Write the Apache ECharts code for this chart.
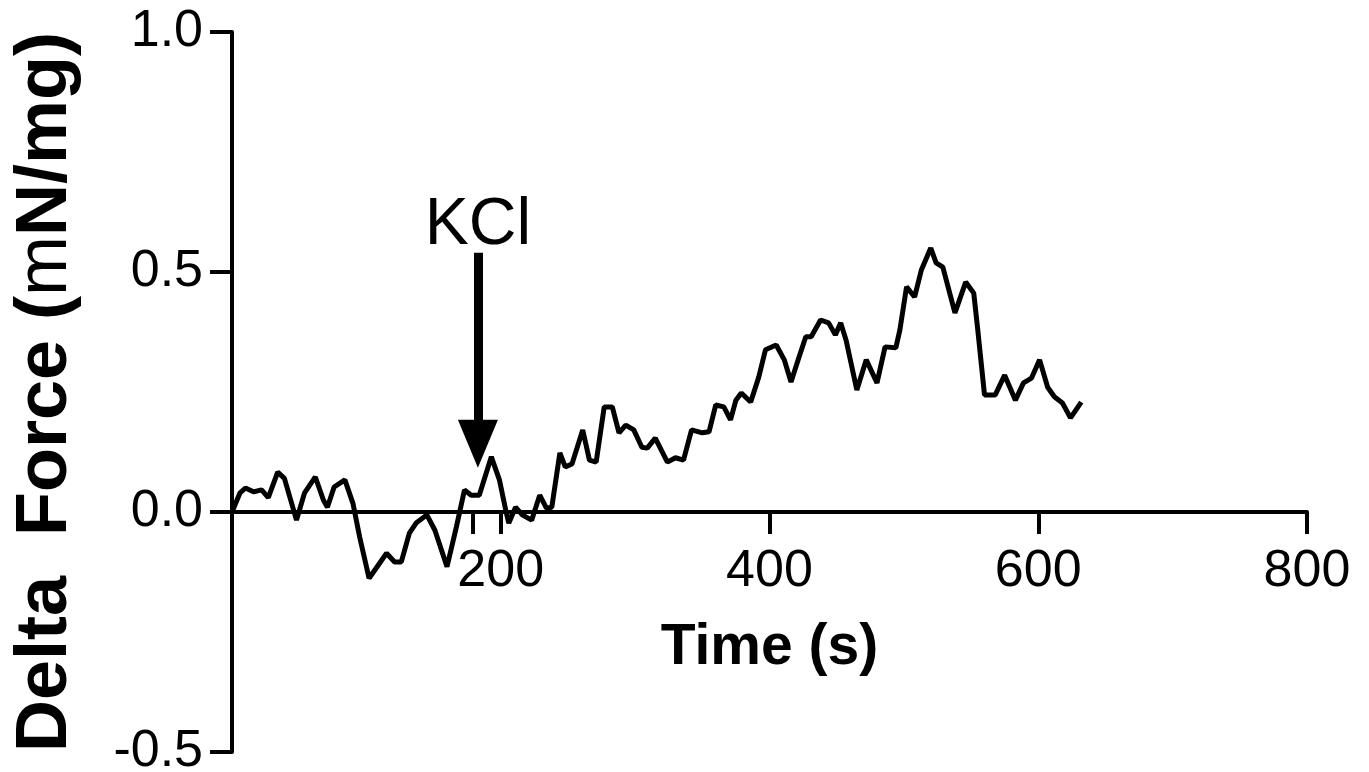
<!DOCTYPE html>
<html>
<head>
<meta charset="utf-8">
<script src="https://cdn.jsdelivr.net/npm/echarts@6/dist/echarts.min.js"></script>
<style>
html,body{margin:0;padding:0;background:#fff;}
#c{width:1369px;height:772px;}
</style>
</head>
<body>
<div id="c"></div>
<script>
const timeS = [0,6,10,16,22,27,34,39,48,54,62,68,71,76,84,90,95,102,108,115,121,126,132,137,145,151,160,167,173,178,184,193,199,204,206,211,216,223,229,234,238,244,248,253,261,266,271,277,283,288,293,299,305,309,315,324,330,336,342,350,355,360,366,371,375,379,386,392,397,405,411,416,422,427,431,438,444,449,453,457,465,472,480,486,494,497,502,508,513,520,524,529,538,546,552,555,560,568,575,583,589,595,601,607,612,618,624,632];
const deltaForce = [0,.04,.05,.042,.046,.03,.083,.07,-.017,.04,.073,.025,.01,.052,.067,.018,-.052,-.138,-.114,-.086,-.104,-.104,-.044,-.023,-.006,-.038,-.114,-.031,.046,.035,.035,.115,.067,0,-.023,.01,-.006,-.017,.035,.008,.01,.123,.094,.10,.171,.108,.104,.219,.219,.165,.181,.171,.135,.133,.154,.104,.113,.108,.171,.165,.167,.223,.219,.192,.233,.248,.229,.281,.338,.348,.317,.271,.323,.365,.365,.40,.394,.369,.394,.358,.254,.317,.269,.344,.342,.379,.469,.448,.504,.55,.519,.51,.415,.479,.456,.379,.244,.244,.285,.233,.269,.279,.317,.26,.24,.227,.196,.229];
const xTicks = [179,200,400,600,800];
const xLabels = [200,400,600,800];
const yLabels = [-0.5,0,0.5,1.0];
const kclTime = 183;
const kclArrowFrom = 0.54;
const kclArrowTo = 0.142;

const FONT = "'Liberation Sans', Arial, Helvetica, sans-serif";
const chart = echarts.init(document.getElementById('c'), null, {renderer:'canvas'});
const series = timeS.map((t,i)=>[t, deltaForce[i]]);
const GRID_TOP = 32, GRID_BOTTOM = 20, H = 772;
const yMin = -0.5, yMax = 1.0;
const plotH = H - GRID_TOP - GRID_BOTTOM;
// x axis drawn along y = 0: shift it up from the grid bottom
const xOffset = -plotH * (0 - yMin) / (yMax - yMin);
// tick length of 22px expressed in y units
const tickLen = 22 * (yMax - yMin) / plotH;

const arrowItem = [
  {coord:[kclTime,kclArrowFrom], symbol:'none',
   lineStyle:{color:'#000', width:9, type:'solid'},
   label:{show:true, position:'start', formatter:'KCl', color:'#000', fontSize:66, fontFamily:FONT, distance:-6}},
  {coord:[kclTime,kclArrowTo], symbol:'triangle', symbolSize:[40,48]}
];
const tickItems = xTicks.map(v=>[
  {coord:[v,0], symbol:'none', lineStyle:{color:'#000', width:4, type:'solid'}, label:{show:false}},
  {coord:[v,-tickLen], symbol:'none'}
]);

chart.setOption({
  backgroundColor:'#fff',
  animation:false,
  grid:{left:232, right:62, top:GRID_TOP, bottom:GRID_BOTTOM, containLabel:false, outerBoundsMode:'none'},
  xAxis:{
    type:'value', min:0, max:800, interval:200, position:'bottom', offset:xOffset,
    axisLine:{show:true, onZero:false, lineStyle:{color:'#000', width:4}},
    axisTick:{show:false},
    axisLabel:{color:'#000', fontSize:52, fontFamily:FONT, margin:34, customValues:xLabels},
    splitLine:{show:false},
    name:'Time (s)', nameLocation:'middle', nameGap:108,
    nameTextStyle:{color:'#000', fontSize:57, fontWeight:'bold', fontFamily:FONT}
  },
  yAxis:{
    type:'value', min:yMin, max:yMax, interval:0.5,
    axisLine:{show:true, lineStyle:{color:'#000', width:4}},
    axisTick:{show:true, inside:false, length:22, lineStyle:{color:'#000', width:4}, customValues:yLabels},
    axisLabel:{color:'#000', fontSize:52, fontFamily:FONT, margin:29, customValues:yLabels, formatter:v=>v.toFixed(1)},
    splitLine:{show:false},
    name:'{b|Delta  Force (}{n|m}{b|N/mg)}', nameLocation:'middle', nameRotate:90, nameGap:150,
    nameTextStyle:{color:'#000', fontSize:72, fontFamily:FONT,
      rich:{b:{fontSize:72, fontWeight:'bold', fontFamily:FONT, color:'#000'},
            n:{fontSize:72, fontWeight:'normal', fontFamily:FONT, color:'#000'}}}
  },
  series:[{
    type:'line', data:series, showSymbol:false, symbol:'none', smooth:false,
    lineStyle:{color:'#000', width:5}, z:3,
    markLine:{
      silent:true, animation:false,
      symbol:['none','none'],
      lineStyle:{color:'#000', width:4, type:'solid'},
      label:{show:false},
      data:[arrowItem].concat(tickItems)
    }
  }]
});
</script>
</body>
</html>
